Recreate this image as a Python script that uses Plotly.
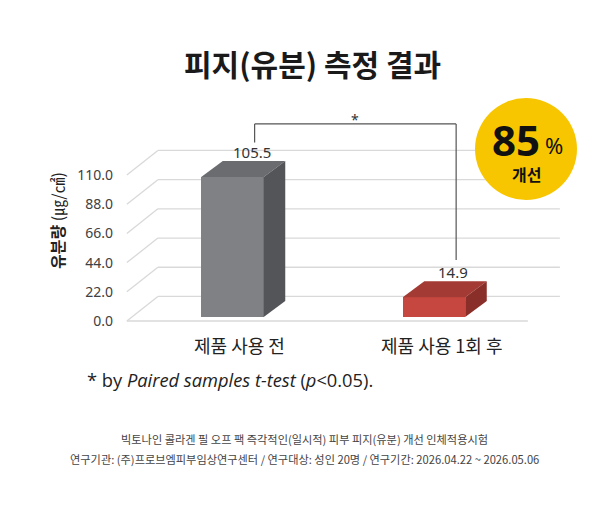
import plotly.graph_objects as go

# ---- data ----
categories = ["제품 사용 전", "제품 사용 1회 후"]
values = [105.5, 14.9]
value_labels = ["105.5", "14.9"]
tick_values = [0, 22, 44, 66, 88, 110]
tick_labels = ["0.0", "22.0", "44.0", "66.0", "88.0", "110.0"]
improvement = "85"

front_colors = ["#808184", "#c6473f"]
top_colors = ["#6b6c6f", "#a33a33"]
side_colors = ["#545558", "#8a2e29"]

KR = "Noto Sans CJK KR"
LAT = "Noto Sans, Noto Sans CJK KR"

# geometry (in axis units)
bar_w = 0.31
bar_base = 3.0
bdx, bdy = 0.107, 12.1          # bar depth offset
gdx, gdy = 0.154, 18.5          # wall depth offset
g_left, g_right, floor_right = -0.524, 1.625, 1.466

L, T, W, H = 120, 95, 450, 235   # plot area in px


def px(xp):
    return (xp - L) / W


def py(yp):
    return (T + H - yp) / H


xs = list(range(len(values)))
fig = go.Figure()

fig.add_trace(go.Bar(
    x=xs, y=values, base=[bar_base] * len(values), width=bar_w,
    marker=dict(color=front_colors, line=dict(width=0)),
    hoverinfo="skip", showlegend=False))

for i, v in zip(xs, values):
    l, r = i - bar_w / 2, i + bar_w / 2
    t = v + bar_base
    fig.add_trace(go.Scatter(
        x=[l, r, r + bdx, l + bdx, l], y=[t, t, t + bdy, t + bdy, t],
        fill="toself", fillcolor=top_colors[i], mode="lines",
        line=dict(width=0, color=top_colors[i]), hoverinfo="skip", showlegend=False))
    fig.add_trace(go.Scatter(
        x=[r, r, r + bdx, r + bdx, r], y=[bar_base, t, t + bdy, bar_base + bdy, bar_base],
        fill="toself", fillcolor=side_colors[i], mode="lines",
        line=dict(width=0, color=side_colors[i]), hoverinfo="skip", showlegend=False))

shapes = []
gc = dict(color="#d9d9d9", width=1.3)
for v in tick_values:
    shapes.append(dict(type="line", xref="x", yref="y", x0=g_left, y0=v,
                       x1=g_left + gdx, y1=v + gdy, line=gc, layer="below"))
    shapes.append(dict(type="line", xref="x", yref="y", x0=g_left + gdx, y0=v + gdy,
                       x1=g_right, y1=v + gdy, line=gc, layer="below"))
shapes.append(dict(type="line", xref="x", yref="y", x0=g_left, y0=0,
                   x1=floor_right, y1=0, line=gc, layer="below"))

# significance bracket
bx = [i + 0.11 for i in xs]
top_y = max(values) + 43
bc = dict(color="#555555", width=1.2)
shapes.append(dict(type="line", xref="x", yref="y", x0=bx[0], y0=values[0] + 29,
                   x1=bx[0], y1=top_y, line=bc))
shapes.append(dict(type="line", xref="x", yref="y", x0=bx[0], y0=top_y,
                   x1=bx[1], y1=top_y, line=bc))
shapes.append(dict(type="line", xref="x", yref="y", x0=bx[1], y0=top_y,
                   x1=bx[1], y1=values[1] + 31, line=bc))

# yellow badge
shapes.append(dict(type="circle", xref="paper", yref="paper",
                   x0=px(475), x1=px(577), y0=py(200), y1=py(98),
                   fillcolor="#f7c600", line=dict(width=0), layer="above"))

annotations = []


def ann(**kw):
    kw.setdefault("showarrow", False)
    kw.setdefault("xanchor", "center")
    kw.setdefault("yanchor", "middle")
    annotations.append(kw)


for i, v, lab in zip(xs, values, value_labels):
    ann(x=i + 0.095, y=v + bar_base + bdy + 7, xref="x", yref="y",
        text=lab, font=dict(family=LAT, size=15, color="#333333"))
ann(x=(bx[0] + bx[1]) / 2, y=top_y, yshift=4, xref="x", yref="y",
    text="*", font=dict(family=LAT, size=14, color="#333333"))
for i, c in zip(xs, categories):
    ann(x=i + 0.035, y=0, xref="x", yref="y", text=c, yanchor="top", yshift=-9,
        font=dict(family=KR, size=18, color="#222222"))

# badge texts
ann(x=px(516), y=py(139), xref="paper", yref="paper",
    text="<b>" + improvement + "</b>",
    font=dict(family="Noto Sans, Roboto", size=42, color="#111111"))
ann(x=px(554), y=py(145), xref="paper", yref="paper", text="%",
    font=dict(family="Noto Sans", size=22, color="#111111"))
ann(x=px(526), y=py(174), xref="paper", yref="paper", text="<b>개선</b>",
    font=dict(family=KR, size=16, color="#111111"))

# y-axis title
ann(x=px(57), y=py(220), xref="paper", yref="paper",
    text="<b>유분량</b> <span style='font-size:16px'>(㎍/㎠)</span>",
    textangle=-90, font=dict(family=KR, size=16, color="#222222"))

# title
ann(x=px(312), y=py(63), xref="paper", yref="paper",
    text="<b>피지(유분) 측정 결과</b>",
    font=dict(family=KR, size=30, color="#1a1a1a"))

# footnote
ann(x=px(85), y=py(379), xref="paper", yref="paper", xanchor="left",
    text="* by <i>Paired samples t-test</i> (<i>p</i>&lt;0.05).",
    font=dict(family="Open Sans, Noto Sans", size=18.3, color="#222222"))

# study info
ann(x=px(304), y=py(439), xref="paper", yref="paper",
    text="빅토나인 콜라겐 필 오프 팩 즉각적인(일시적) 피부 피지(유분) 개선 인체적용시험",
    font=dict(family=KR, size=11.2, color="#444444"))
ann(x=px(304), y=py(459), xref="paper", yref="paper",
    text="연구기관: (주)프로브엠피부임상연구센터 / 연구대상: 성인 20명 / 연구기간: 2026.04.22 ~ 2026.05.06",
    font=dict(family=KR, size=11.2, color="#444444"))

fig.update_layout(
    width=610, height=525,
    margin=dict(l=L, r=610 - L - W, t=T, b=525 - T - H),
    paper_bgcolor="white", plot_bgcolor="white",
    shapes=shapes, annotations=annotations,
    xaxis=dict(range=[-0.558, 1.675], showticklabels=False, showgrid=False,
               zeroline=False, showline=False, fixedrange=True),
    yaxis=dict(range=[-6.78, 170.3], tickvals=tick_values, ticktext=tick_labels,
               showgrid=False, zeroline=False, showline=False, ticks="",
               ticklabelstandoff=6,
               tickfont=dict(family=LAT, size=14, color="#404040")),
    showlegend=False, bargap=0,
)

fig.write_html("out.html", config={"displayModeBar": False},
               post_script="document.body.style.margin='0px';")
